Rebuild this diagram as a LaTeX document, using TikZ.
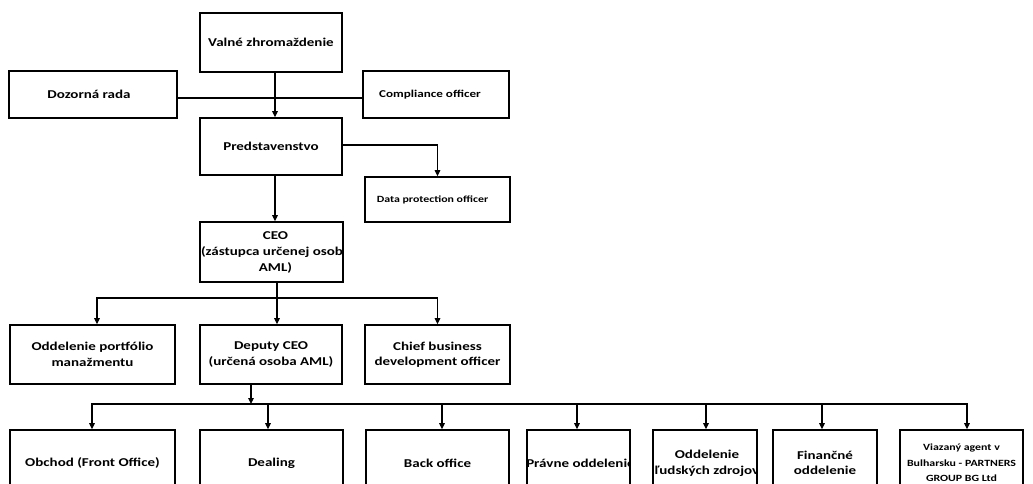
\documentclass[tikz,border=0pt]{standalone}
\usepackage{fontspec}
\setmainfont{Carlito}[FakeStretch=1.25]
\usetikzlibrary{arrows.meta}
\tikzset{
  box/.style={draw, line width=1.6pt, inner sep=0pt, align=center, font=\bfseries\fontsize{12}{15.5}\selectfont},
  smallbox/.style={box, font=\bfseries\fontsize{10.5}{12}\selectfont},
  txt/.style={inner sep=0pt, align=center, font=\bfseries\fontsize{12}{16}\selectfont},
  conn/.style={line width=1.1pt},
  arr/.style={conn, -{Triangle[length=6pt,width=5.5pt]}}
}
\begin{document}
\begin{tikzpicture}[x=1pt,y=-1pt]
\useasboundingbox (0,0) rectangle (1033,484);
\fill[white] (0,0) rectangle (1033,484);
\begin{scope}
\clip (0,0) rectangle (1033,484);
% top
\node[box, minimum width=142pt, minimum height=59pt] (vz) at (271,42.5) {Valné zhromaždenie};
\node[box, minimum width=168pt, minimum height=47pt] (dr) at (93,94.5) {\hspace*{-8pt}Dozorná rada};
\node[smallbox, minimum width=146pt, minimum height=47pt] (co) at (436,94.5) {\hspace*{-12pt}Compliance officer};
\node[smallbox, font=\bfseries\fontsize{9.5}{12}\selectfont, minimum width=145pt, minimum height=45pt] (dpo) at (437.5,199.5) {\hspace*{-10pt}Data protection officer};
\node[box, minimum width=142pt, minimum height=57pt] (pred) at (271,146.5) {Predstavenstvo};
\node[box, minimum width=143pt, minimum height=60pt] (ceo) at (271.5,252) {};
% row 2
\node[box, minimum width=165pt, minimum height=59pt] (odp) at (92.5,354.5) {Oddelenie portfólio\\manažmentu};
\node[box, minimum width=142pt, minimum height=59pt] (dep) at (271,354.5) {Deputy CEO\\(určená osoba AML)};
\node[box, minimum width=145pt, minimum height=59pt] (cbo) at (437.5,354.5) {Chief business\\development officer};
% row 3
\node[box, minimum width=165pt, minimum height=66pt] (ob) at (92.5,463) {Obchod (Front Office)};
\node[box, minimum width=143pt, minimum height=66pt] (de) at (271.5,463) {Dealing};
\node[box, minimum width=143pt, minimum height=66pt] (bo) at (437.5,463) {Back office};
\node[box, minimum width=103pt, minimum height=66pt] (pravne) at (578.5,463) {};
\node[box, minimum width=104pt, minimum height=66pt] (ol) at (705,463) {};
\node[box, minimum width=104pt, minimum height=66pt] (fin) at (825,463) {Finančné\\oddelenie};
\node[box, minimum width=123pt, minimum height=66pt, font=\bfseries\fontsize{9.5}{15.5}\selectfont] (va) at (961.5,463) {Viazaný agent v\\Bulharsku - PARTNERS\\GROUP BG Ltd};
% clipped texts
\begin{scope}
\clip (ceo.south west) rectangle (ceo.north east);
\node[txt] (ceot) at ([xshift=4pt]ceo.center) {CEO\\(zástupca určenej osoby\\AML)};
\end{scope}
\begin{scope}
\clip (pravne.south west) rectangle (pravne.north east);
\node[txt] (pravnet) at ([xshift=2pt]pravne.center) {Právne oddelenie};
\end{scope}
\begin{scope}
\clip (ol.south west) rectangle (ol.north east);
\node[txt] (olt) at ([xshift=2pt]ol.center) {Oddelenie\\ľudských zdrojov};
\end{scope}
% connectors
\coordinate (a1) at ([xshift=4pt]pred.south);
\coordinate (a2) at (a1 |- ceo.north);
\draw[conn] ([yshift=-3.5pt]dr.east) -- ([yshift=-3.5pt]co.west);
\draw[arr] ([xshift=4pt]vz.south) -- ([xshift=4pt]pred.north);
\draw[arr] ([yshift=1.5pt]pred.east) -| (dpo.north);
\draw[arr] (a1) -- (a2);
\coordinate (j1) at (277,298);
\draw[conn] ([xshift=5.5pt]ceo.south) -- (j1);
\draw[arr] (j1) -| ([xshift=4.5pt]odp.north);
\draw[arr] (j1) -- ([xshift=6pt]dep.north);
\draw[arr] (j1) -| (cbo.north);
\coordinate (j2) at (251,404);
\draw[arr] ([xshift=-20pt]dep.south) -- (j2);
\draw[arr] (j2) -| ([xshift=-0.5pt]ob.north);
\draw[arr] (j2) -| ([xshift=-3.5pt]de.north);
\draw[arr] (j2) -| ([xshift=4.5pt]bo.north);
\draw[arr] (j2) -| ([xshift=-1.5pt]pravne.north);
\draw[arr] (j2) -| ([xshift=1pt]ol.north);
\draw[arr] (j2) -| ([xshift=-3pt]fin.north);
\draw[arr] (j2) -| ([xshift=5.5pt]va.north);
\end{scope}
\end{tikzpicture}
\end{document}
